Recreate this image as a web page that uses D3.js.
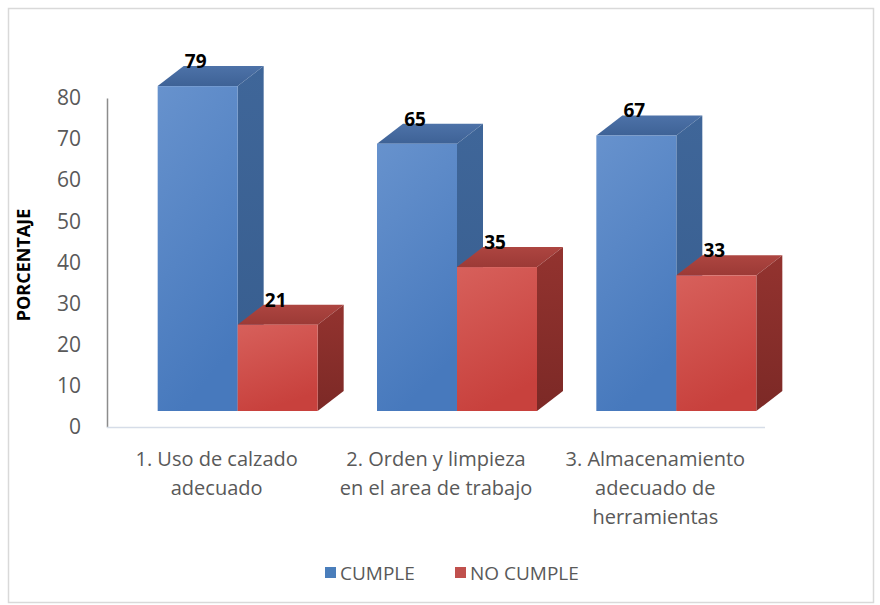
<!DOCTYPE html>
<meta charset="utf-8">
<script src="https://d3js.org/d3.v7.min.js"></script>
<style>
  body { margin: 0; background: #fff; }
  text { font-family: "Open Sans", "Noto Sans", sans-serif; }
</style>
<div id="screen"></div>
<script>
  // data
  var categories = [
    ["1. Uso de calzado", "adecuado"],
    ["2. Orden y limpieza", "en el area de trabajo"],
    ["3. Almacenamiento", "adecuado de", "herramientas"]
  ];
  var series = ["CUMPLE", "NO CUMPLE"];
  var cumple = [79, 65, 67];
  var noCumple = [21, 35, 33];
  var ticks = [0, 10, 20, 30, 40, 50, 60, 70, 80];

  var W = 880, H = 605;
  var depth = {dx: 26, dy: -20};   // 3d depth of a column
  var shift = {dx: 21, dy: -16};   // columns sit a bit behind the floor front edge
  var barW = 80;

  var svg = d3.select("#screen").append("svg")
      .attr("width", W).attr("height", H);

  // gradients
  var defs = svg.append("defs");
  function grad(id, c1, c2, x2, y2) {
    var g = defs.append("linearGradient").attr("id", id)
        .attr("x1", 0).attr("y1", 0).attr("x2", x2).attr("y2", y2);
    g.append("stop").attr("offset", "0%").attr("stop-color", c1);
    g.append("stop").attr("offset", "100%").attr("stop-color", c2);
  }
  grad("bFront", "#6792cd", "#4779bd", 0.3, 1);
  grad("bSide", "#3f6699", "#375d8e", 0, 1);
  grad("bTop", "#4d72a8", "#3e6296", 0, 1);
  grad("rFront", "#d7605b", "#c8413d", 0.3, 1);
  grad("rSide", "#93332f", "#7c2926", 0, 1);
  grad("rTop", "#ad4540", "#9c3a36", 0, 1);

  var styles = [
    {front: "url(#bFront)", side: "url(#bSide)", top: "url(#bTop)", key: "#4a7ebb"},
    {front: "url(#rFront)", side: "url(#rSide)", top: "url(#rTop)", key: "#c0504d"}
  ];

  // outer frame
  svg.append("rect")
      .attr("x", 8.5).attr("y", 8.5).attr("width", 865).attr("height", 594)
      .attr("fill", "#fff").attr("stroke", "#d9d9d9").attr("stroke-width", 1.5);

  var x = d3.scaleBand().domain(d3.range(categories.length)).range([107, 765]);
  var y = d3.scaleLinear().domain([0, 80]).range([427, 98]);

  // y axis
  var yAxis = d3.axisLeft(y).tickValues(ticks).tickSize(0).tickPadding(26);
  var ga = svg.append("g").attr("transform", "translate(107,0)").call(yAxis);
  ga.select(".domain").attr("stroke", "#8c8c8c").attr("stroke-width", 1.5);
  ga.selectAll("text").attr("font-size", 21).attr("fill", "#595959")
      .attr("font-family", "Open Sans, sans-serif");

  // floor front edge
  svg.append("line")
      .attr("x1", 107).attr("x2", 765).attr("y1", 427.5).attr("y2", 427.5)
      .attr("stroke", "#d6dde8").attr("stroke-width", 1.5);

  svg.append("text")
      .attr("transform", "translate(30,265) rotate(-90)")
      .attr("text-anchor", "middle")
      .attr("font-size", 18).attr("font-weight", "bold").attr("fill", "#000")
      .text("PORCENTAJE");

  // 3d columns
  function column(g, x0, v, st) {
    var x1 = x0 + barW;
    var yb = y(0) + shift.dy, yt = y(v) + shift.dy;
    var dx = depth.dx, dy = depth.dy;
    g.append("path").attr("fill", st.top)
        .attr("d", "M" + x0 + "," + yt + "L" + (x0 + dx) + "," + (yt + dy) +
              "L" + (x1 + dx) + "," + (yt + dy) + "L" + x1 + "," + yt + "Z");
    g.append("path").attr("fill", st.side)
        .attr("d", "M" + x1 + "," + yt + "L" + (x1 + dx) + "," + (yt + dy) +
              "L" + (x1 + dx) + "," + (yb + dy) + "L" + x1 + "," + yb + "Z");
    g.append("rect").attr("fill", st.front)
        .attr("x", x0).attr("y", yt).attr("width", barW).attr("height", yb - yt);
  }

  var bars = svg.append("g");
  var labels = [];
  categories.forEach(function(c, i) {
    var cx = x(i) + x.bandwidth() / 2 + shift.dx;
    [cumple[i], noCumple[i]].forEach(function(v, s) {
      var x0 = cx - barW + s * barW;
      column(bars, x0, v, styles[s]);
      labels.push({x: x0 + barW / 2 - 2, y: y(v) + shift.dy - 18, v: v});
    });
  });

  svg.append("g").selectAll("text").data(labels).join("text")
      .attr("x", function(d) { return d.x; })
      .attr("y", function(d) { return d.y; })
      .attr("text-anchor", "middle")
      .attr("font-size", 19).attr("font-weight", "bold").attr("fill", "#000")
      .text(function(d) { return d.v; });

  // category labels
  var cat = svg.append("g");
  categories.forEach(function(lines, i) {
    var t = cat.append("text")
        .attr("text-anchor", "middle")
        .attr("font-size", 20).attr("fill", "#595959");
    lines.forEach(function(l, k) {
      t.append("tspan").attr("x", x(i) + x.bandwidth() / 2)
          .attr("y", 466 + k * 29).text(l);
    });
  });

  // legend
  var legendX = [325, 455];
  var lg = svg.append("g");
  series.forEach(function(s, i) {
    lg.append("rect").attr("x", legendX[i]).attr("y", 567)
        .attr("width", 11).attr("height", 11).attr("fill", styles[i].key);
    lg.append("text").attr("x", legendX[i] + 15).attr("y", 580)
        .attr("font-size", 19).attr("fill", "#595959").text(s);
  });
</script>
